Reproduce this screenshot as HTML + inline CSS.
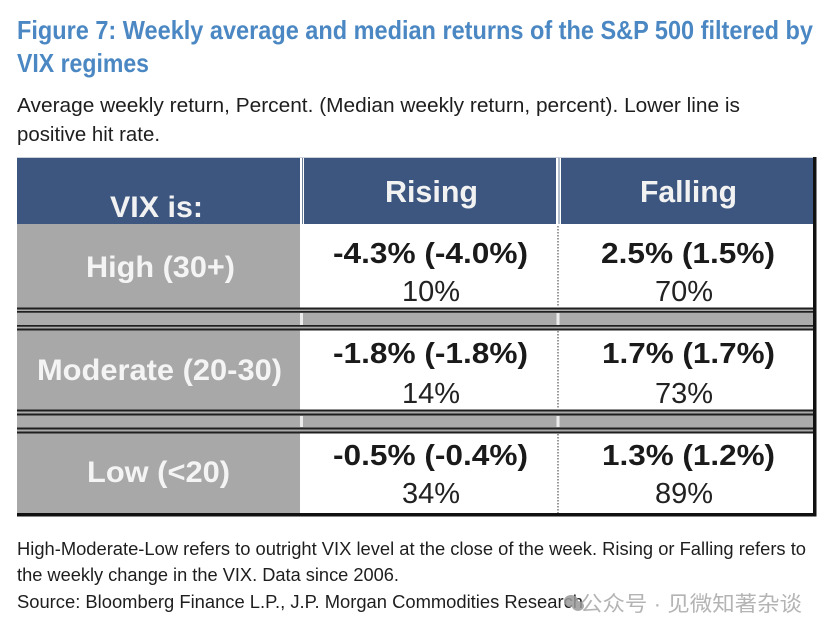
<!DOCTYPE html>
<html>
<head>
<meta charset="utf-8">
<style>
  html, body { margin: 0; padding: 0; background: #ffffff; }
  svg { display: block; }
  text { font-family: "Liberation Sans", Arial, sans-serif; }
  .cjk { font-family: "Liberation Sans", "Noto Sans CJK SC", sans-serif; }
</style>
</head>
<body>
<svg width="830" height="636" viewBox="0 0 830 636" xmlns="http://www.w3.org/2000/svg">
  <rect x="0" y="0" width="830" height="636" fill="#ffffff"/>

  <!-- Title -->
  <text x="17" y="39" font-size="26" font-weight="bold" fill="#4b88c3" textLength="796" lengthAdjust="spacingAndGlyphs">Figure 7: Weekly average and median returns of the S&amp;P 500 filtered by</text>
  <text x="17" y="72" font-size="26" font-weight="bold" fill="#4b88c3" textLength="132" lengthAdjust="spacingAndGlyphs">VIX regimes</text>

  <!-- Subtitle -->
  <text x="17" y="112" font-size="20.5" fill="#1e1e1e" textLength="723" lengthAdjust="spacingAndGlyphs">Average weekly return, Percent. (Median weekly return, percent). Lower line is</text>
  <text x="17" y="141" font-size="20.5" fill="#1e1e1e" textLength="143" lengthAdjust="spacingAndGlyphs">positive hit rate.</text>

  <!-- Header -->
  <rect x="17" y="157" width="799" height="1" fill="#c8d0dc"/>
  <rect x="17" y="158" width="283" height="66" fill="#3c5680"/>
  <rect x="304" y="158" width="252" height="66" fill="#3c5680"/>
  <rect x="561" y="158" width="252" height="66" fill="#3c5680"/>
  <rect x="302" y="158" width="1" height="66" fill="#6b7d99"/>
  <rect x="558.5" y="158" width="1" height="66" fill="#6b7d99"/>

  <text x="110" y="217" font-size="30" font-weight="bold" fill="#f2f2f2" textLength="93" lengthAdjust="spacingAndGlyphs">VIX is:</text>
  <text x="385" y="202" font-size="31" font-weight="bold" fill="#f2f2f2" textLength="93" lengthAdjust="spacingAndGlyphs">Rising</text>
  <text x="640" y="202" font-size="31" font-weight="bold" fill="#f2f2f2" textLength="97" lengthAdjust="spacingAndGlyphs">Falling</text>

  <!-- Left label column -->
  <rect x="17" y="224" width="283" height="289" fill="#a8a8a8"/>

  <!-- Separator bands -->
  <rect x="17" y="308" width="796" height="22" fill="#ababab"/>
  <rect x="17" y="410" width="796" height="23" fill="#ababab"/>
  <!-- white vertical gaps in bands -->
  <rect x="300" y="313" width="3" height="12" fill="#ececec"/>
  <rect x="556.5" y="313" width="3" height="12" fill="#ececec"/>
  <rect x="300" y="416" width="3" height="11" fill="#ececec"/>
  <rect x="556.5" y="416" width="3" height="11" fill="#ececec"/>
  <!-- band lines -->
  <g fill="#1f1f1f">
    <rect x="17" y="307.5" width="796" height="2"/>
    <rect x="17" y="311" width="796" height="1.7"/>
    <rect x="17" y="325" width="796" height="1.7"/>
    <rect x="17" y="328.5" width="796" height="2"/>
    <rect x="17" y="409.5" width="796" height="2"/>
    <rect x="17" y="413.5" width="796" height="2"/>
    <rect x="17" y="427.5" width="796" height="2"/>
    <rect x="17" y="431.5" width="796" height="2"/>
  </g>

  <!-- dotted column divider in data rows -->
  <g stroke="#333" stroke-width="1" stroke-dasharray="1.5,1.5">
    <line x1="558" y1="226" x2="558" y2="307"/>
    <line x1="558" y1="331" x2="558" y2="409"/>
    <line x1="558" y1="434" x2="558" y2="513"/>
  </g>

  <!-- outer borders -->
  <rect x="813" y="157" width="3.5" height="359.5" fill="#111"/>
  <rect x="17" y="513" width="799.5" height="3.5" fill="#111"/>

  <!-- Row labels -->
  <text x="86" y="277" font-size="30" font-weight="bold" fill="#f4f4f4" textLength="149" lengthAdjust="spacingAndGlyphs">High (30+)</text>
  <text x="37" y="380" font-size="30" font-weight="bold" fill="#f4f4f4" textLength="245" lengthAdjust="spacingAndGlyphs">Moderate (20-30)</text>
  <text x="87" y="482" font-size="30" font-weight="bold" fill="#f4f4f4" textLength="143" lengthAdjust="spacingAndGlyphs">Low (&lt;20)</text>

  <!-- Data: High -->
  <text x="333" y="263" font-size="29" font-weight="bold" fill="#1a1a1a" textLength="195" lengthAdjust="spacingAndGlyphs">-4.3% (-4.0%)</text>
  <text x="431" y="301" font-size="29" fill="#222" text-anchor="middle">10%</text>
  <text x="601" y="263" font-size="29" font-weight="bold" fill="#1a1a1a" textLength="174" lengthAdjust="spacingAndGlyphs">2.5% (1.5%)</text>
  <text x="684" y="301" font-size="29" fill="#222" text-anchor="middle">70%</text>

  <!-- Data: Moderate -->
  <text x="333" y="363" font-size="29" font-weight="bold" fill="#1a1a1a" textLength="195" lengthAdjust="spacingAndGlyphs">-1.8% (-1.8%)</text>
  <text x="431" y="403" font-size="29" fill="#222" text-anchor="middle">14%</text>
  <text x="602" y="363" font-size="29" font-weight="bold" fill="#1a1a1a" textLength="173" lengthAdjust="spacingAndGlyphs">1.7% (1.7%)</text>
  <text x="684" y="403" font-size="29" fill="#222" text-anchor="middle">73%</text>

  <!-- Data: Low -->
  <text x="333" y="465" font-size="29" font-weight="bold" fill="#1a1a1a" textLength="195" lengthAdjust="spacingAndGlyphs">-0.5% (-0.4%)</text>
  <text x="431" y="503" font-size="29" fill="#222" text-anchor="middle">34%</text>
  <text x="602" y="465" font-size="29" font-weight="bold" fill="#1a1a1a" textLength="173" lengthAdjust="spacingAndGlyphs">1.3% (1.2%)</text>
  <text x="684" y="503" font-size="29" fill="#222" text-anchor="middle">89%</text>

  <!-- Footnotes -->
  <text x="17" y="555" font-size="18.3" fill="#1e1e1e" textLength="789" lengthAdjust="spacingAndGlyphs">High-Moderate-Low refers to outright VIX level at the close of the week. Rising or Falling refers to</text>
  <text x="17" y="581" font-size="18.3" fill="#1e1e1e" textLength="382" lengthAdjust="spacingAndGlyphs">the weekly change in the VIX. Data since 2006.</text>
  <text x="17" y="608" font-size="18.3" fill="#1e1e1e" textLength="566" lengthAdjust="spacingAndGlyphs">Source: Bloomberg Finance L.P., J.P. Morgan Commodities Research</text>

  <!-- Watermark -->
  <g fill="#9a9a9a" opacity="0.85">
    <ellipse cx="571" cy="601" rx="7" ry="6"/>
    <ellipse cx="578" cy="606" rx="6" ry="5"/>
  </g>
  <text class="cjk" x="580" y="611" font-size="21" fill="#b4b4b4" textLength="222" lengthAdjust="spacingAndGlyphs">公众号 · 见微知著杂谈</text>
</svg>
</body>
</html>
